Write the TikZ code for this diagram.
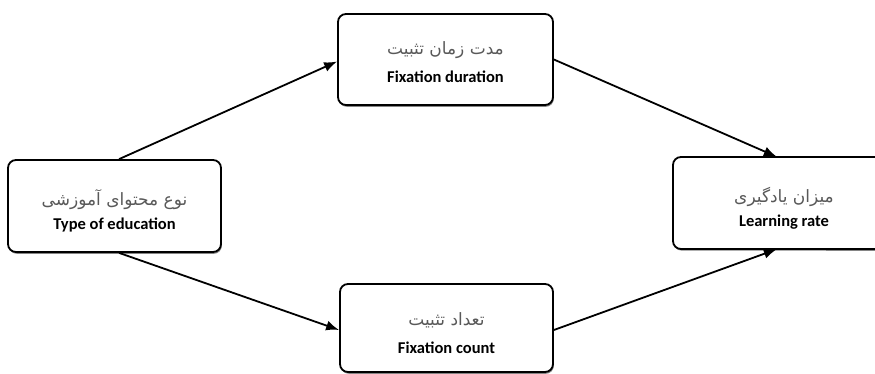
\documentclass[tikz,border=0pt]{standalone}
\usepackage{fontspec}
\setmainfont{Carlito}
\newfontfamily\arabicfont[Script=Arabic]{DejaVu Sans}
\TeXXeTstate=1
\usetikzlibrary{arrows.meta,shadows}
\begin{document}
\begin{tikzpicture}[x=1pt,y=-1pt,
  box/.style={draw=black, line width=1.8pt, rounded corners=8pt, fill=white,
    drop shadow={shadow xshift=0.8pt, shadow yshift=-1.8pt, fill=black!60, opacity=0.8},
    minimum width=#1, inner sep=0pt},
  openbox/.style={draw=black, line width=1.8pt, rounded corners=8pt, fill=white},
  lab/.style={align=center, inner sep=0pt},
  fa/.style={font=\arabicfont\fontsize{17}{19}\selectfont, text=black!65},
  en/.style={font=\bfseries\fontsize{16.5}{18}\selectfont, text=black},
  arr/.style={line width=1.8pt, -{Latex[length=13pt,width=10pt]}}]
\path[use as bounding box] (0,0) rectangle (875,374);
% right box, cut by the picture's right edge
\node[minimum width=240pt, minimum height=92pt, inner sep=0pt] (R) at (793,203) {};
\fill[black!60, opacity=0.8, sharp corners] ([xshift=0.8pt,yshift=-1.8pt]R.north west) ++(0,8) -- ++(0,76) arc[start angle=180,end angle=270,radius=8pt] -- (875,250.8) -- (875,160) -- cycle;
\draw[openbox] (876,157) -- (673,157) -- (673,249) -- (876,249);
% boxes
\node[box=213pt, minimum height=92pt] (L) at (114.5,206) {};
\node[box=215pt, minimum height=91pt] (T) at (445.5,59.5) {};
\node[box=213pt, minimum height=88pt] (B) at (446.5,328) {};
% labels
\node[lab, fa] (Lfa) at ([yshift=6pt]L.center) {\beginR نوع محتوای آموزشی\endR};
\node[lab, en] (Len) at ([yshift=-19pt]L.center) {Type of education};
\node[lab, fa] (Tfa) at ([yshift=9pt]T.center) {\beginR مدت زمان تثبیت\endR};
\node[lab, en] (Ten) at ([yshift=-17pt]T.center) {Fixation duration};
\node[lab, fa] (Bfa) at ([yshift=8pt]B.center) {\beginR تعداد تثبیت\endR};
\node[lab, en] (Ben) at ([yshift=-20pt]B.center) {Fixation count};
\node[lab, fa] (Rfa) at (784,197) {\beginR میزان یادگیری\endR};
\node[lab, en] (Ren) at (784,222) {Learning rate};
% anchor points
\coordinate (L1) at ([xshift=112pt]L.north west);
\coordinate (L2) at ([xshift=112pt]L.south west);
\coordinate (R1) at ([xshift=104pt]R.north west);
\coordinate (R2) at ([xshift=104pt]R.south west);
% arrows
\draw[arr] (L1) -- ([yshift=-2pt]T.west);
\draw[arr] (T.east) -- (R1);
\draw[arr] (L2) -- ([yshift=-2pt]B.west);
\draw[arr] ([yshift=-2pt]B.east) -- (R2);
\end{tikzpicture}
\end{document}
